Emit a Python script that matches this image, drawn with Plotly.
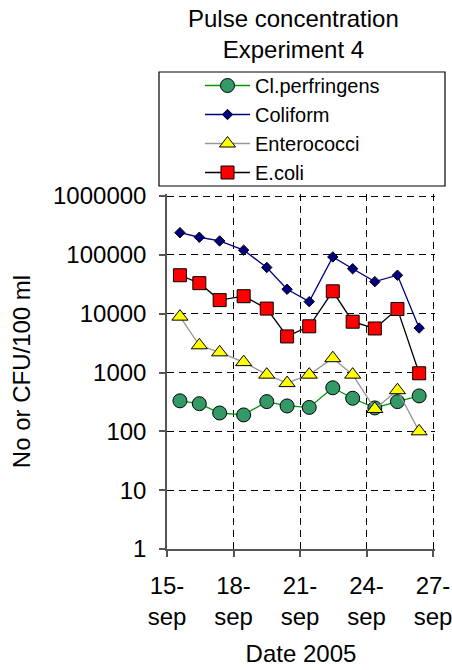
import plotly.graph_objects as go

# ---- data ----
dates = ["2005-09-15 14:00", "2005-09-16 11:00", "2005-09-17 09:00", "2005-09-18 11:00",
         "2005-09-19 12:00", "2005-09-20 10:00", "2005-09-21 10:00", "2005-09-22 11:30",
         "2005-09-23 09:00", "2005-09-24 09:00", "2005-09-25 09:30", "2005-09-26 09:00"]
cl_perfringens = [330, 295, 205, 190, 320, 270, 255, 550, 365, 250, 320, 400]
coliform = [238000, 199000, 172000, 120000, 61000, 26000, 16000, 92000, 58000, 35000, 45000, 5700]
enterococci = [8900, 2900, 2200, 1500, 920, 660, 920, 1750, 920, 240, 500, 100]
e_coli = [45000, 33000, 17000, 19800, 12200, 4100, 6100, 24000, 7300, 5600, 12000, 970]

x_tickvals = ["2005-09-15", "2005-09-18", "2005-09-21", "2005-09-24", "2005-09-27"]
x_ticktext = ["15-<br>sep", "18-<br>sep", "21-<br>sep", "24-<br>sep", "27-<br>sep"]
y_tickvals = [1, 10, 100, 1000, 10000, 100000, 1000000]
y_ticktext = ["1", "10", "100", "1000", "10000", "100000", "1000000"]

FONT = "Liberation Sans, Arial, sans-serif"

fig = go.Figure()
fig.add_trace(go.Scatter(
    x=dates, y=cl_perfringens, name="Cl.perfringens", mode="lines+markers",
    line=dict(color="#009900", width=1.3),
    marker=dict(symbol="circle", size=14, color="#339966", line=dict(color="black", width=1))))
fig.add_trace(go.Scatter(
    x=dates, y=coliform, name="Coliform", mode="lines+markers",
    line=dict(color="#000080", width=1.3),
    marker=dict(symbol="diamond", size=8, color="#000080", line=dict(color="black", width=1))))
fig.add_trace(go.Scatter(
    x=dates, y=enterococci, name="Enterococci", mode="lines+markers",
    line=dict(color="#969696", width=1.3),
    marker=dict(symbol="triangle-up", size=14, color="#FFFF00", line=dict(color="black", width=1))))
fig.add_trace(go.Scatter(
    x=dates, y=e_coli, name="E.coli", mode="lines+markers",
    line=dict(color="black", width=1.3),
    marker=dict(symbol="square", size=13, color="#FF0000", line=dict(color="black", width=1))))

W, H = 452, 670
# plot area: x 166.7..432.7 (15-sep..27-sep), y 196 (1e6) .. 549 (1)
L, R, T, B = 167, 17, 194, 121
pw, ph = W - L - R, H - T - B
day_px = (432.7 - 166.7) / 12.0
dec_px = (549 - 196) / 6.0
x_end_extra_h = 24 * 2.0 / day_px          # ~2 px beyond 27-sep so its grid line is kept
y_top = 6 + 2.0 / dec_px                     # ~2 px beyond 1e6 so its grid line is kept

def px_x(p):
    return (p - L) / pw

def px_y(p):
    return (H - B - p) / ph

fig.update_layout(
    width=W, height=H,
    margin=dict(l=L, r=R, t=T, b=B, pad=0, autoexpand=False),
    paper_bgcolor="white", plot_bgcolor="white",
    font=dict(family=FONT, size=24, color="black"),
    showlegend=True,
    legend=dict(
        x=px_x(200), y=px_y(66), xanchor="left", yanchor="top",
        xref="paper", yref="paper",
        bgcolor="rgba(0,0,0,0)", borderwidth=0,
        font=dict(family=FONT, size=20, color="black"),
        traceorder="normal", itemwidth=45,
    ),
    shapes=[dict(type="rect", xref="paper", yref="paper",
                 x0=px_x(159), x1=px_x(445), y0=px_y(186), y1=px_y(72),
                 line=dict(color="black", width=1.2), fillcolor="rgba(0,0,0,0)")],
    annotations=[dict(text="Pulse concentration<br>Experiment 4", xref="paper", yref="paper",
                      x=px_x(293), y=px_y(3), xanchor="center", yanchor="top",
                      showarrow=False, font=dict(family=FONT, size=24, color="black"))],
)

fig.update_xaxes(
    type="date",
    range=["2005-09-15 00:00", "2005-09-27 %02d:%02d" % (int(x_end_extra_h), int((x_end_extra_h % 1) * 60))],
    tickvals=x_tickvals, ticktext=x_ticktext,
    showgrid=True, gridcolor="black", gridwidth=1, griddash="7px,5px",
    showline=True, linecolor="#555555", linewidth=1.5,
    ticks="outside", ticklen=6, tickcolor="#555555", tickwidth=1.5,
    tickfont=dict(family=FONT, size=24), ticklabelstandoff=8, ticklabeloverflow="allow",
    title=dict(text="Date 2005", font=dict(family=FONT, size=24), standoff=16),
    zeroline=False,
)
fig.update_yaxes(
    type="log", range=[0, y_top],
    tickvals=y_tickvals, ticktext=y_ticktext,
    showgrid=True, gridcolor="black", gridwidth=1, griddash="7px,5px",
    showline=True, linecolor="#555555", linewidth=1.5,
    ticks="outside", ticklen=6, tickcolor="#555555", tickwidth=1.5,
    tickfont=dict(family=FONT, size=24), ticklabelstandoff=8, ticklabeloverflow="allow",
    title=dict(text="No or CFU/100 ml", font=dict(family=FONT, size=24), standoff=16),
    zeroline=False,
)

fig.write_html("out.html", config={"displayModeBar": False},
               post_script="document.body.style.margin='0';document.body.style.padding='0';")
